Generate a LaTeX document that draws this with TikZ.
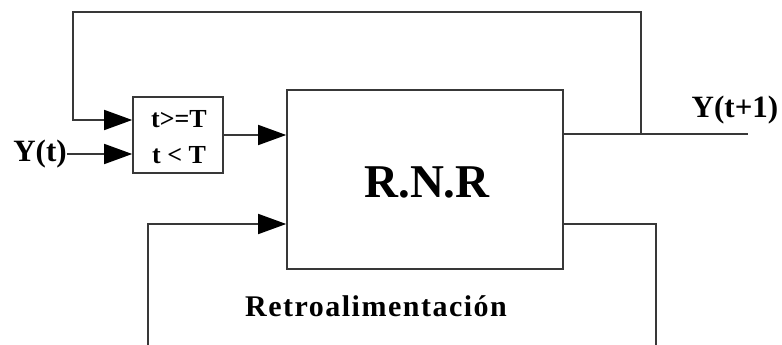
\documentclass[tikz,border=0pt]{standalone}
\usepackage{fontspec}
\setmainfont{Liberation Serif}
\usetikzlibrary{arrows.meta}
\begin{document}
\begin{tikzpicture}[x=1pt,y=-1pt,
  ln/.style={line width=1.6pt, draw=black!78},
  arr/.style={ln, -{Triangle[length=28pt,width=20pt,color=black]}},
  box/.style={ln, rectangle, inner sep=0pt},
  lbl/.style={font=\bfseries\fontsize{31}{31}\selectfont, inner sep=0pt},
  swtxt/.style={font=\bfseries\fontsize{26}{26}\selectfont, inner sep=0pt}]
\useasboundingbox (0,0) rectangle (782,345);
\node[box, minimum width=90pt, minimum height=76pt] (sw) at (178,135) {};
\node[box, minimum width=276pt, minimum height=179pt] (rnr) at (425,179.5) {};
\node[swtxt] (t1) at (179,119) {t>=T};
\node[swtxt] (t2) at (179,155) {t < T};
\node[font=\bfseries\fontsize{47}{47}\selectfont, inner sep=0pt] (rnrtxt) at (427,182) {R.N.R};
\node[lbl] (yt) at (40,154) {Y(t)};
\node[lbl] (ytp) at (735,110) {Y(t+1)};
\node[font=\bfseries\fontsize{30}{30}\selectfont\addfontfeature{LetterSpace=5}, inner sep=0pt] (retro) at (376,306) {Retroalimentación};
\coordinate (j) at (641,134);
\coordinate (tr) at (641,12);
\coordinate (tl) at (73,12);
\coordinate (in1) at (73,120);
\coordinate (oe) at (748,134);
\coordinate (fr) at (656,224);
\coordinate (frb) at (656,346);
\coordinate (flb) at (148,346);
\draw[arr] (j) -- (tr) -- (tl) |- (sw.west |- in1);
\draw[arr] (yt.east) -- (yt.east -| sw.west);
\draw[arr] (sw.east) -- (sw.east -| rnr.west);
\draw[ln] (rnr.east |- oe) -- (oe);
\draw[ln] (rnr.east |- fr) -- (fr) -- (frb);
\draw[arr] (flb) |- (rnr.west |- fr);
\end{tikzpicture}
\end{document}
